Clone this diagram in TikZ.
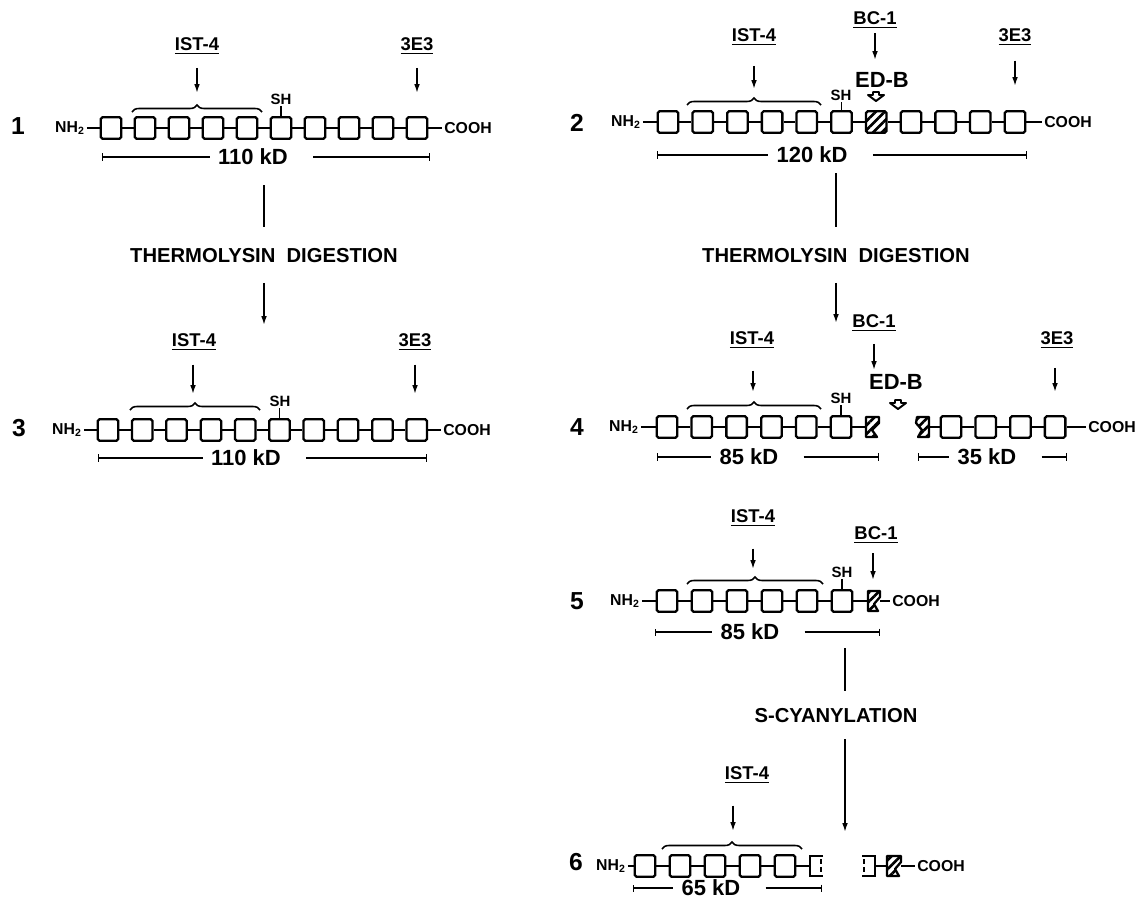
\documentclass[tikz,border=0pt]{standalone}
\usepackage{fontspec}
\setmainfont{Liberation Sans}
\usepackage{tikz}
\usetikzlibrary{arrows.meta,calc,positioning,patterns.meta,decorations.pathreplacing}
\newcommand{\bsz}[1]{\bfseries\fontsize{#1}{#1}\selectfont}

\begin{document}
\begin{tikzpicture}[x=0.02cm,y=-0.02cm,
  dom/.style={draw,line width=1.3pt,rounded corners=1pt,minimum width=0.41cm,minimum height=0.43cm,inner sep=0pt},
  edb/.style={dom,pattern={Lines[angle=45,distance=3.6pt,line width=1.5pt]}},
  cut/.style={line width=1.3pt,line join=round,pattern={Lines[angle=45,distance=3.6pt,line width=1.5pt]}},
  open/.style={line width=1.3pt},
  lnk/.style={line width=1.1pt},
  arr/.style={line width=0.9pt,-{Latex[length=5pt,width=3.2pt]}},
  stem/.style={line width=0.9pt},
  dim/.style={line width=0.7pt},
  num/.style={font=\bsz{14}},
  term/.style={font=\bsz{9},inner sep=1pt},
  mab/.style={font=\bsz{10.5},inner sep=1pt},
  shlbl/.style={font=\bsz{8.5},inner sep=0.5pt},
  kd/.style={font=\bsz{12.5},inner sep=0pt},
  stepnode/.style={font=\bsz{11.5},inner sep=1pt},
  br/.style={decorate,decoration={brace,amplitude=4pt},line width=0.9pt},
  opn/.style={line width=1.1pt,line join=round}]
  \useasboundingbox (0,0) rectangle (1145,907);

  % 1: intact molecule
  \node[num] (n1) at (18,126) {1};
  \node[term] (nh1) at (70,128) {NH\textsubscript{2}};
  \foreach \k in {0,...,9} {\node[dom] (a\k) at ({111+34*\k},128) {};}
  \node[term] (co1) at (468,128) {COOH};
  \draw[lnk] (nh1) -- (a0); \draw[lnk] (a9) -- (co1);
  \foreach \k in {0,...,8} {\pgfmathtruncatemacro{\n}{\k+1} \draw[lnk] (a\k) -- (a\n);}
  \node[shlbl] (sh1) at (281,99) {SH}; \draw[lnk] (a5.north) -- (a5.north |- sh1.south);
  \node[mab] (ist1) at (197,46) {\underline{IST-4}}; \coordinate (ist1t) at (197,93);
  \draw[arr,shorten <=6.5pt] (ist1.south -| ist1t) -- (ist1t);
  \node[mab] (ee1) at (417,46) {\underline{3E3}}; \coordinate (ee1t) at (417,93);
  \draw[arr,shorten <=6.5pt] (ee1.south -| ee1t) -- (ee1t);
  \draw[br] (132,112) -- (262,112);
  \node[kd] (kd1) at (253,157) {110 kD}; \coordinate (kd1l) at (102,157); \coordinate (kd1r) at (430,157);
  \draw[dim,{Bar[width=4pt]}-] (kd1l) -- ([xshift=-0.16cm]kd1.west);
  \draw[dim,-{Bar[width=4pt]}] ([xshift=0.5cm]kd1.east) -- (kd1r);

  \coordinate (s1a) at (264,185); \coordinate (s1b) at (264,325);
  \node[stepnode] (th1) at (264,256) {THERMOLYSIN~~DIGESTION};
  \draw[stem,shorten >=11pt] (s1a) -- (s1a |- th1.north);
  \draw[arr,shorten <=10pt] (s1b |- th1.south) -- (s1b);

  % 3: after digestion
  \node[num] (n3) at (19,428) {3};
  \node[term] (nh3) at (67,430) {NH\textsubscript{2}};
  \foreach \k in {0,...,9} {\node[dom] (b\k) at ({108+34.3*\k},430) {};}
  \node[term] (co3) at (467,430) {COOH};
  \draw[lnk] (nh3) -- (b0); \draw[lnk] (b9) -- (co3);
  \foreach \k in {0,...,8} {\pgfmathtruncatemacro{\n}{\k+1} \draw[lnk] (b\k) -- (b\n);}
  \node[shlbl] (sh3) at (280,401) {SH}; \draw[lnk] (b5.north) -- (b5.north |- sh3.south);
  \node[mab] (ist3) at (194,342) {\underline{IST-4}}; \coordinate (ist3t) at (193,394);
  \draw[arr,shorten <=7pt] (ist3.south -| ist3t) -- (ist3t);
  \node[mab] (ee3) at (415,342) {\underline{3E3}}; \coordinate (ee3t) at (415,394);
  \draw[arr,shorten <=7pt] (ee3.south -| ee3t) -- (ee3t);
  \draw[br] (130,410) -- (260,410);
  \node[kd] (kd3) at (246,458) {110 kD}; \coordinate (kd3l) at (98,458); \coordinate (kd3r) at (427,458);
  \draw[dim,{Bar[width=4pt]}-] (kd3l) -- ([xshift=-0.16cm]kd3.west);
  \draw[dim,-{Bar[width=4pt]}] ([xshift=0.5cm]kd3.east) -- (kd3r);

  % 2: with ED-B
  \node[num] (n2) at (577,123) {2};
  \node[term] (nh2) at (626,122) {NH\textsubscript{2}};
  \foreach \k/\s in {0/dom,1/dom,2/dom,3/dom,4/dom,5/dom,6/edb,7/dom,8/dom,9/dom,10/dom} {\node[\s] (c\k) at ({668+34.7*\k},122) {};}
  \node[term] (co2) at (1068,122) {COOH};
  \draw[lnk] (nh2) -- (c0); \draw[lnk] (c10) -- (co2);
  \foreach \k in {0,...,9} {\pgfmathtruncatemacro{\n}{\k+1} \draw[lnk] (c\k) -- (c\n);}
  \node[shlbl] (sh2) at (841,95) {SH}; \draw[lnk] (c5.north) -- (c5.north |- sh2.south);
  \node[mab] (ist2) at (754,37) {\underline{IST-4}}; \coordinate (ist2t) at (754,89);
  \draw[arr,shorten <=10.5pt] (ist2.south -| ist2t) -- (ist2t);
  \node[mab] (bc2) at (875,20) {\underline{BC-1}}; \coordinate (bc2t) at (875,60);
  \draw[arr,shorten <=1.5pt] (bc2.south -| bc2t) -- (bc2t);
  \node[mab] (ee2) at (1015,37) {\underline{3E3}}; \coordinate (ee2t) at (1015,86);
  \draw[arr,shorten <=7.5pt] (ee2.south -| ee2t) -- (ee2t);
  \node[font=\bsz{12.5}] (ed2) at (882,80) {ED-B};
  \coordinate (cut2) at (876,97);
  \draw[opn,shift={(cut2)}] (-3,-5) -- (3,-5) -- (3,-2) -- (8,-2) -- (0,4) -- (-8,-2) -- (-3,-2) -- cycle;
  \draw[br] (687,105) -- (821,105);
  \node[kd] (kd2) at (812,155) {120 kD}; \coordinate (kd2l) at (657,155); \coordinate (kd2r) at (1027,155);
  \draw[dim,{Bar[width=4pt]}-] (kd2l) -- ([xshift=-0.16cm]kd2.west);
  \draw[dim,-{Bar[width=4pt]}] ([xshift=0.5cm]kd2.east) -- (kd2r);

  \coordinate (s2a) at (836,173); \coordinate (s2b) at (836,323);
  \node[stepnode] (th2) at (836,256) {THERMOLYSIN~~DIGESTION};
  \draw[stem,shorten >=11pt] (s2a) -- (s2a |- th2.north);
  \draw[arr,shorten <=10pt] (s2b |- th2.south) -- (s2b);

  % 4: cleaved in ED-B
  \node[num] (n4) at (577,427) {4};
  \node[term] (nh4) at (624,427) {NH\textsubscript{2}};
  \foreach \k in {0,...,5} {\node[dom] (d\k) at ({667+34.8*\k},427) {};}
  \foreach \k in {0,...,3} {\node[dom] (e\k) at ({951+34.7*\k},427) {};}
  \node[term] (co4) at (1112,427) {COOH};
  \draw[cut] (879,417) -- (866,417) -- (866,437) -- (877,437) -- (872,430) -- (879,423) -- cycle;
  \draw[cut] (917,417) -- (929,417) -- (929,437) -- (918,437) -- (922,430) -- (916,423) -- cycle;
  \coordinate (p4a) at (866,427); \coordinate (p4b) at (929,427);
  \draw[lnk] (nh4) -- (d0); \draw[lnk] (d5) -- (p4a); \draw[lnk] (p4b) -- (e0); \draw[lnk] (e3) -- (co4);
  \foreach \k in {0,...,4} {\pgfmathtruncatemacro{\n}{\k+1} \draw[lnk] (d\k) -- (d\n);}
  \foreach \k in {0,...,2} {\pgfmathtruncatemacro{\n}{\k+1} \draw[lnk] (e\k) -- (e\n);}
  \node[shlbl] (sh4) at (841,398) {SH}; \draw[lnk] (d5.north) -- (d5.north |- sh4.south);
  \node[mab] (ist4) at (752,340) {\underline{IST-4}}; \coordinate (ist4t) at (753,392);
  \draw[arr,shorten <=11.5pt] (ist4.south -| ist4t) -- (ist4t);
  \node[mab] (bc4) at (874,323) {\underline{BC-1}}; \coordinate (bc4t) at (874,370);
  \draw[arr,shorten <=6pt] (bc4.south -| bc4t) -- (bc4t);
  \node[mab] (ee4) at (1057,340) {\underline{3E3}}; \coordinate (ee4t) at (1055,392);
  \draw[arr,shorten <=10pt] (ee4.south -| ee4t) -- (ee4t);
  \node[font=\bsz{12.5}] (ed4) at (896,382) {ED-B};
  \coordinate (cut4) at (898,405);
  \draw[opn,shift={(cut4)}] (-3,-5) -- (3,-5) -- (3,-2) -- (8,-2) -- (0,4) -- (-8,-2) -- (-3,-2) -- cycle;
  \draw[br] (687,409) -- (821,409);
  \node[kd] (kd4) at (749,457) {85 kD}; \coordinate (kd4l) at (657,457); \coordinate (kd4r) at (879,457);
  \draw[dim,{Bar[width=4pt]}-] (kd4l) -- ([xshift=-0.16cm]kd4.west);
  \draw[dim,-{Bar[width=4pt]}] ([xshift=0.5cm]kd4.east) -- (kd4r);
  \node[kd] (kd4b) at (987,457) {35 kD}; \coordinate (kd4bl) at (918,457); \coordinate (kd4br) at (1067,457);
  \draw[dim,{Bar[width=4pt]}-] (kd4bl) -- ([xshift=-0.16cm]kd4b.west);
  \draw[dim,-{Bar[width=4pt]}] ([xshift=0.5cm]kd4b.east) -- (kd4br);

  % 5: 85 kD fragment
  \node[num] (n5) at (577,601) {5};
  \node[term] (nh5) at (625,601) {NH\textsubscript{2}};
  \foreach \k in {0,...,5} {\node[dom] (f\k) at ({667+35*\k},601) {};}
  \node[term] (co5) at (916,601) {COOH};
  \draw[cut] (880,591) -- (868,591) -- (868,611) -- (878,611) -- (874,604) -- (880,597) -- cycle;
  \coordinate (p5a) at (868,601); \coordinate (p5b) at (880,601);
  \draw[lnk] (nh5) -- (f0); \draw[lnk] (f5) -- (p5a); \draw[lnk] (p5b) -- (co5);
  \foreach \k in {0,...,4} {\pgfmathtruncatemacro{\n}{\k+1} \draw[lnk] (f\k) -- (f\n);}
  \node[shlbl] (sh5) at (842,572) {SH}; \draw[lnk] (f5.north) -- (f5.north |- sh5.south);
  \node[mab] (ist5) at (753,518) {\underline{IST-4}}; \coordinate (ist5t) at (753,569);
  \draw[arr,shorten <=11.5pt] (ist5.south -| ist5t) -- (ist5t);
  \node[mab] (bc5) at (876,535) {\underline{BC-1}}; \coordinate (bc5t) at (873,580);
  \draw[arr,shorten <=4.5pt] (bc5.south -| bc5t) -- (bc5t);
  \draw[br] (687,584) -- (823,584);
  \node[kd] (kd5) at (750,632) {85 kD}; \coordinate (kd5l) at (655,632); \coordinate (kd5r) at (880,632);
  \draw[dim,{Bar[width=4pt]}-] (kd5l) -- ([xshift=-0.16cm]kd5.west);
  \draw[dim,-{Bar[width=4pt]}] ([xshift=0.5cm]kd5.east) -- (kd5r);

  \coordinate (s5a) at (845,648); \coordinate (s5b) at (845,832);
  \node[stepnode] (sc5) at (836,716) {S-CYANYLATION};
  \draw[stem,shorten >=9pt] (s5a) -- (s5a |- sc5.north);
  \draw[arr,shorten <=8pt] (s5b |- sc5.south) -- (s5b);

  % 6: 65 kD fragment
  \node[num] (n6) at (576,862) {6};
  \node[term] (nh6) at (611,866) {NH\textsubscript{2}};
  \foreach \k in {0,...,4} {\node[dom] (g\k) at ({645+35*\k},866) {};}
  \node[term] (co6) at (941,866) {COOH};
  \draw[open] (823,856) -- (810,856) -- (810,876) -- (823,876);
  \draw[line width=1.5pt,dash pattern=on 3pt off 1.5pt] (821,859) -- (821,873);
  \draw[open] (862,856) -- (875,856) -- (875,876) -- (862,876);
  \draw[line width=1.5pt,dash pattern=on 3pt off 1.5pt] (864,859) -- (864,873);
  \draw[cut] (901,856) -- (887,856) -- (887,876) -- (899,876) -- (895,869) -- (901,862) -- cycle;
  \coordinate (p6a) at (810,866); \coordinate (p6b) at (875,866); \coordinate (p6c) at (887,866); \coordinate (p6d) at (901,866);
  \draw[lnk] (nh6) -- (g0); \draw[lnk] (g4) -- (p6a); \draw[lnk] (p6b) -- (p6c); \draw[lnk] (p6d) -- (co6);
  \foreach \k in {0,...,3} {\pgfmathtruncatemacro{\n}{\k+1} \draw[lnk] (g\k) -- (g\n);}
  \node[mab] (ist6) at (747,775) {\underline{IST-4}}; \coordinate (ist6t) at (733,831);
  \draw[arr,shorten <=11.5pt] (ist6.south -| ist6t) -- (ist6t);
  \draw[br] (662,849) -- (802,849);
  \node[kd] (kd6) at (711,888) {65 kD}; \coordinate (kd6l) at (633,888); \coordinate (kd6r) at (822,888);
  \draw[dim,{Bar[width=4pt]}-] (kd6l) -- ([xshift=-0.16cm]kd6.west);
  \draw[dim,-{Bar[width=4pt]}] ([xshift=0.5cm]kd6.east) -- (kd6r);
\end{tikzpicture}
\end{document}
